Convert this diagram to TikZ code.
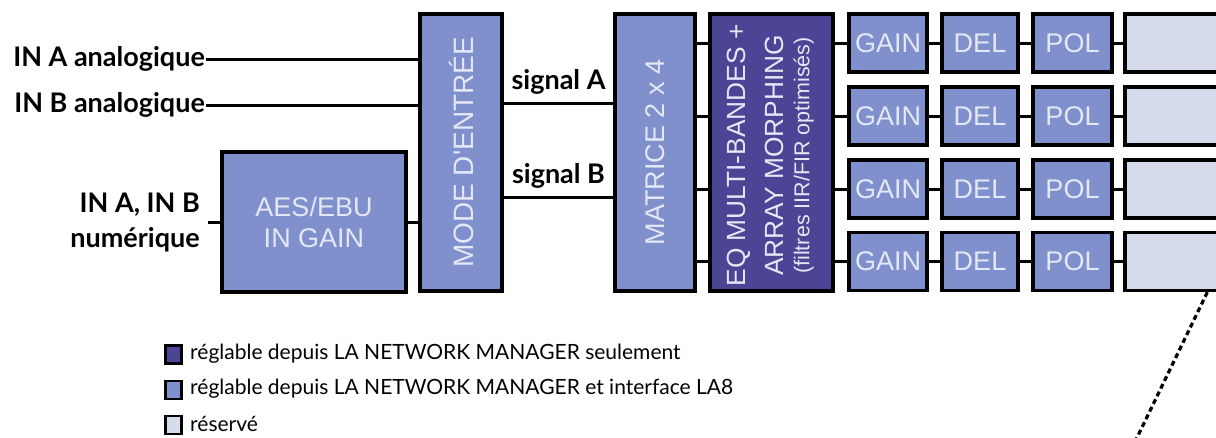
\documentclass[tikz,border=0pt]{standalone}
\usepackage{fontspec}
\setmainfont{Lato}
\newfontfamily\boxfont{Liberation Sans}
\usetikzlibrary{calc}
\definecolor{midblue}{RGB}{128,144,205}
\definecolor{darkblue}{RGB}{76,69,150}
\definecolor{paleblue}{RGB}{215,220,237}
\definecolor{boxtext}{RGB}{228,231,245}
\begin{document}
\begin{tikzpicture}[x=1pt,y=-1pt,
  blk/.style={draw=black, line width=3.4pt, fill=midblue, inner sep=0pt},
  btxt/.style={text=boxtext, font=\boxfont\fontsize{27}{31}\selectfont, inner sep=0pt, align=center},
  wire/.style={line width=3pt, draw=black},
  lbl/.style={font=\bfseries\fontsize{27}{35}\selectfont, inner sep=0pt},
  legtxt/.style={font=\fontsize{21}{24}\selectfont, anchor=west, inner sep=0pt},
  legsq/.style={draw=black, line width=2.4pt, minimum width=16pt, minimum height=18pt, inner sep=0pt}
]
\clip (0,0) rectangle (1216,437);
\fill[white] (0,0) rectangle (1216,437);

% main blocks
\node[blk, minimum width=184pt, minimum height=140pt] (aes) at (314,222) {};
\node[btxt] at (aes) {AES/EBU\\IN GAIN};
\node[blk, minimum width=82pt, minimum height=277pt] (mode) at (461,152.5) {};
\node[btxt, rotate=90, font=\boxfont\fontsize{28}{31}\selectfont] at (mode) {MODE D'ENTRÉE};
\node[blk, minimum width=80pt, minimum height=277pt] (mat) at (655,152.5) {};
\node[btxt, rotate=90] at (mat) {MATRICE 2 x 4};
\node[blk, fill=darkblue, minimum width=123pt, minimum height=277pt] (eq) at (771.5,152.5) {};
\node[btxt, rotate=90, font=\boxfont\fontsize{26.3}{38}\selectfont] at ([xshift=-1pt, yshift=-3pt]eq.center) {EQ MULTI-BANDES +\\ARRAY MORPHING\\[-12pt]{\fontsize{21.5}{24}\selectfont (filtres IIR/FIR optimisés)}};

% rows
\foreach \i/\y in {1/43,2/116,3/189,4/261.5}{
  \node[blk, minimum width=78pt, minimum height=58pt] (gain\i) at (888,\y) {};
  \node[btxt] at (gain\i) {GAIN};
  \node[blk, minimum width=76pt, minimum height=58pt] (del\i) at (980,\y) {};
  \node[btxt] at (del\i) {DEL};
  \node[blk, minimum width=79pt, minimum height=58pt] (pol\i) at (1072.5,\y) {};
  \node[btxt] at (pol\i) {POL};
  \node[blk, fill=paleblue, minimum width=135pt, minimum height=58pt] (res\i) at (1192.5,\y) {};
  \draw[wire] (gain\i.west -| mat.east) -- (gain\i.west -| eq.west);
  \draw[wire] (gain\i.west -| eq.east) -- (gain\i.west);
  \draw[wire] (gain\i.east) -- (del\i.west);
  \draw[wire] (del\i.east) -- (pol\i.west);
  \draw[wire] (pol\i.east) -- (res\i.west);
}

% inputs
\node[lbl, anchor=east, inner xsep=1pt] (ina) at (206,59) {IN A analogique};
\node[lbl, anchor=east, inner xsep=1pt] (inb) at (206,105) {IN B analogique};
\node[lbl, anchor=east, align=right, inner xsep=8pt] (innum) at (208,222) {IN A, IN B\\numérique};
\draw[wire] (ina.east) -- (ina.east -| mode.west);
\draw[wire] (inb.east) -- (inb.east -| mode.west);
\draw[wire] (innum.east) -- (aes.west);
\draw[wire] (aes.east) -- (aes.east -| mode.west);

% signals
\draw[wire] ([yshift=49.5pt]mode.east) -- node[lbl, above=7pt] (sa) {signal A} ([yshift=49.5pt]mat.west);
\draw[wire] ([yshift=-44.5pt]mode.east) -- node[lbl, above=7pt] (sb) {signal B} ([yshift=-44.5pt]mat.west);

% dotted line
\coordinate (dotend) at (1133,446);
\draw[line width=3.2pt, dash pattern=on 5pt off 3.5pt] ($(res4.south west)!0.607!(res4.south east)$) -- (dotend);

% legend
\node[legsq, fill=darkblue] (sq1) at (173.5,354.5) {};
\node[legtxt] (t1) at (190,354) {réglable depuis LA NETWORK MANAGER seulement};
\node[legsq, fill=midblue] (sq2) at (173.5,390) {};
\node[legtxt] (t2) at (190,389) {réglable depuis LA NETWORK MANAGER et interface LA8};
\node[legsq, fill=paleblue] (sq3) at (173.5,425) {};
\node[legtxt] (t3) at (190,424) {réservé};
\end{tikzpicture}
\end{document}
